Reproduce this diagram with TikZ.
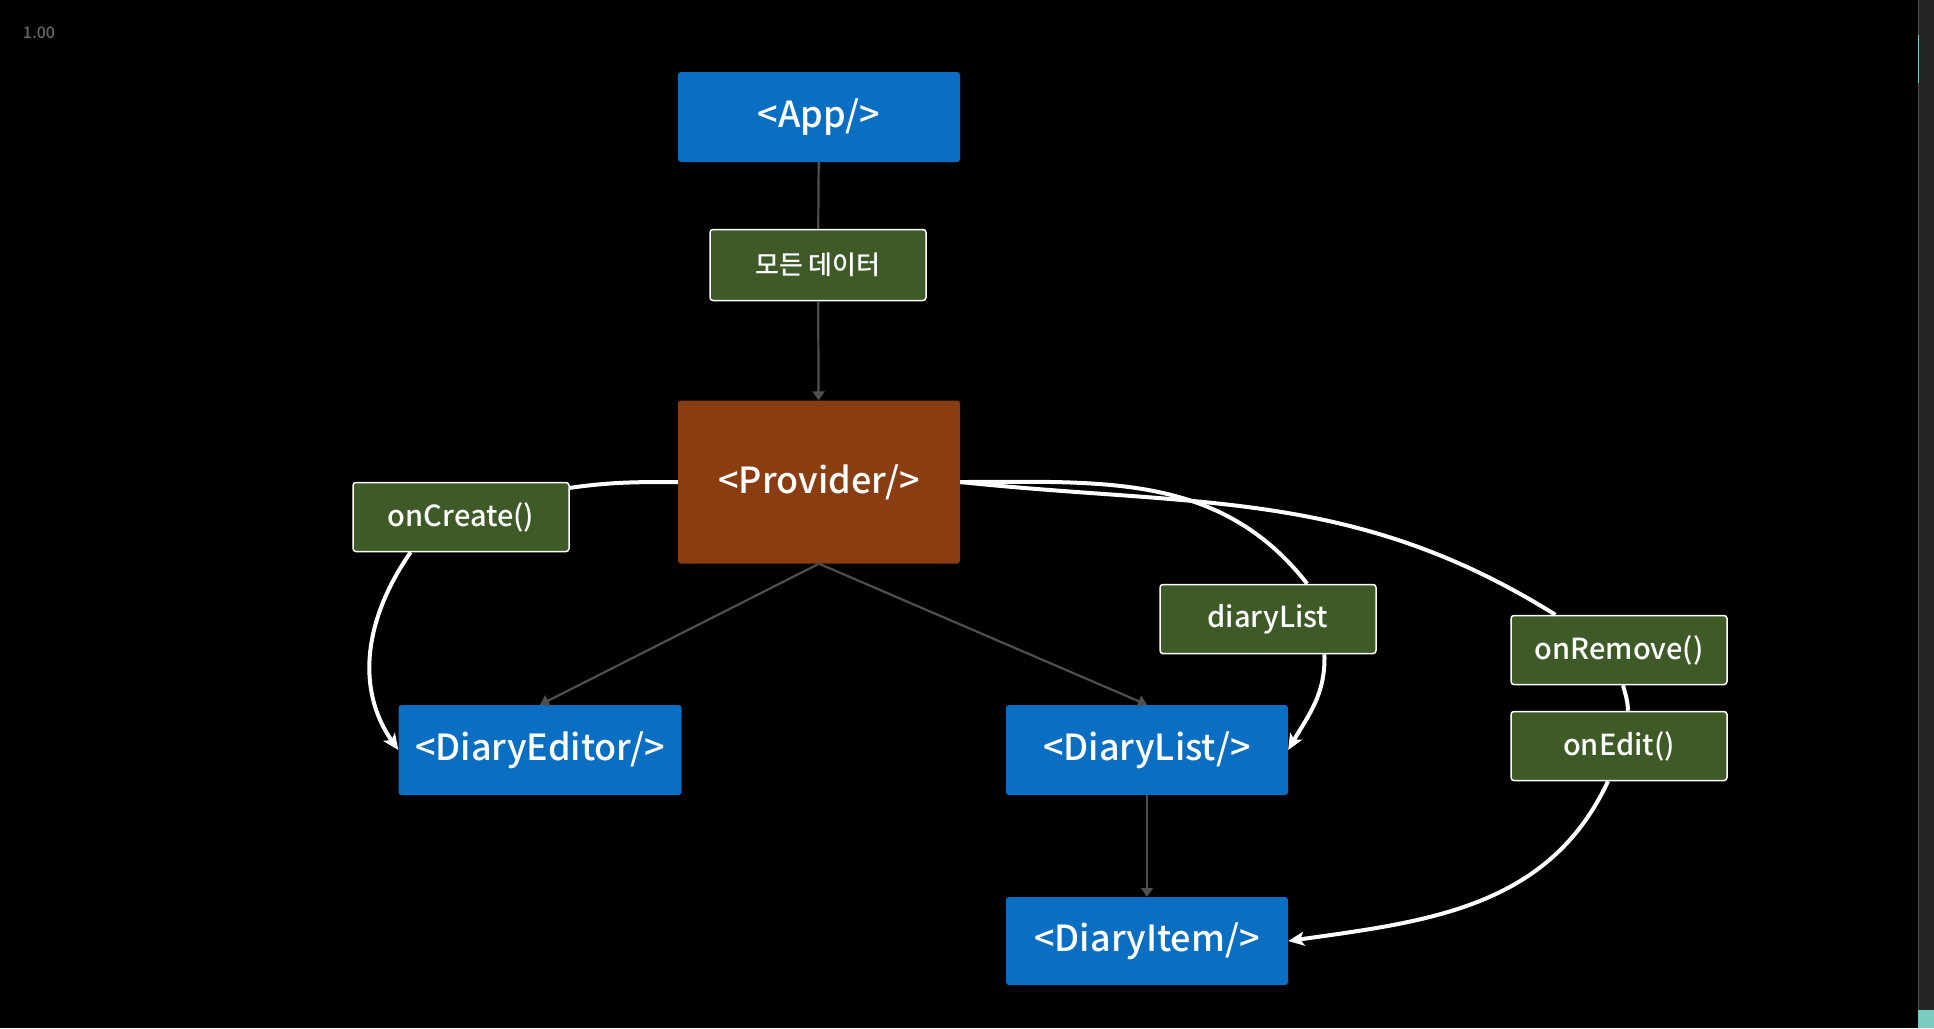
\documentclass[tikz,border=0pt]{standalone}
\usepackage{fontspec}
\setmainfont{Noto Sans CJK KR}[UprightFont={* Medium}]
\usepackage{tikz}
\usetikzlibrary{calc, arrows.meta, positioning}

\definecolor{cBlue}{HTML}{0A6FC2}
\definecolor{cBrown}{HTML}{8B3D12}
\definecolor{cGreen}{HTML}{3D5A27}
\definecolor{cLine}{HTML}{4F4F4F}
\definecolor{cMuted}{HTML}{666666}
\definecolor{cSide}{HTML}{252526}
\definecolor{cTeal}{HTML}{7ACCC0}

\newcommand{\fsz}[1]{\fontsize{#1}{#1}\selectfont}

\begin{document}
\begin{tikzpicture}[x=1pt, y=1pt,
        >={Triangle[length=9pt,width=12pt]},
        compbox/.style={fill=cBlue, text=white, rounded corners=3pt, inner sep=0pt,
            minimum width=282pt, minimum height=90pt, font=\fsz{36}},
        hubbox/.style={compbox, fill=cBrown, minimum height=163pt},
        propbox/.style={fill=cGreen, draw=white, line width=1.5pt, text=white, rounded corners=3pt,
            inner sep=0pt, minimum width=216pt, minimum height=69pt, font=\fsz{29}},
        flowline/.style={draw=cLine, line width=2.2pt},
        passline/.style={draw=white, line width=4pt, -{Stealth[length=16pt,width=14pt,inset=4pt]}}]

        \fill[black] (0,0) rectangle (1934,-1028);
        \useasboundingbox (0,0) rectangle (1934,-1028);

        % side panel
        \fill[cSide] (1918,0) rectangle (1934,-1028);
        \draw[cLine, line width=1pt] (1918.5,0) -- (1918.5,-1010);
        \draw[cTeal, line width=1pt] (1918.5,-35) -- (1918.5,-83);
        \fill[cTeal] (1918,-1010) rectangle (1934,-1028);

        \node[text=cMuted, font=\fsz{16}] (zoomLbl) at (39,-33) {1.00};

        \node[compbox] (app) at (819,-117) {<App/>};
        \node[propbox, font=\fsz{26}, minimum height=71pt] (all) at (818,-265) {모든 데이터};
        \node[hubbox] (prov) at (819,-482) {<Provider/>};
        \node[propbox] (cre) at (461,-517) {onCreate()};
        \node[compbox, minimum width=283pt] (edit) at (540,-750) {<DiaryEditor/>};
        \node[propbox] (dlab) at (1268,-619) {diaryList};
        \node[compbox] (lst) at (1147,-750) {<DiaryList/>};
        \node[propbox] (rem) at (1619,-650) {onRemove()};
        \node[propbox] (ed) at (1619,-746) {onEdit()};
        \node[compbox, minimum height=88pt] (item) at (1147,-941) {<DiaryItem/>};

        \draw[flowline] (app) -- (all);
        \draw[flowline, ->] (all) -- (prov);
        \draw[flowline, ->] (prov.south) -- (edit.north);
        \draw[flowline, ->] (prov.south) -- (lst.north);
        \draw[flowline, ->] (lst) -- (item);

        \draw[passline, -] (prov.west) to[out=180, in=8] (cre.15);
        \draw[passline] (cre.215) to[out=235, in=125] (edit.west);

        \draw[passline, -] (prov.east) to[out=0, in=128] (dlab.42);
        \draw[passline] (dlab.-32) to[out=-88, in=60] (lst.east);

        \draw[passline, -] (prov.east) to[out=-6, in=148] (rem.151);
        \draw[passline, -] ($(rem.south)+(4,0)$) to[out=-75, in=92] ($(ed.north)+(9,0)$);
        \draw[passline] ($(ed.south)+(-11,0)$) to[out=-115, in=8] (item.east);
%        \draw[passline] (ed.south) -- (item.east);
\end{tikzpicture}
\end{document}
